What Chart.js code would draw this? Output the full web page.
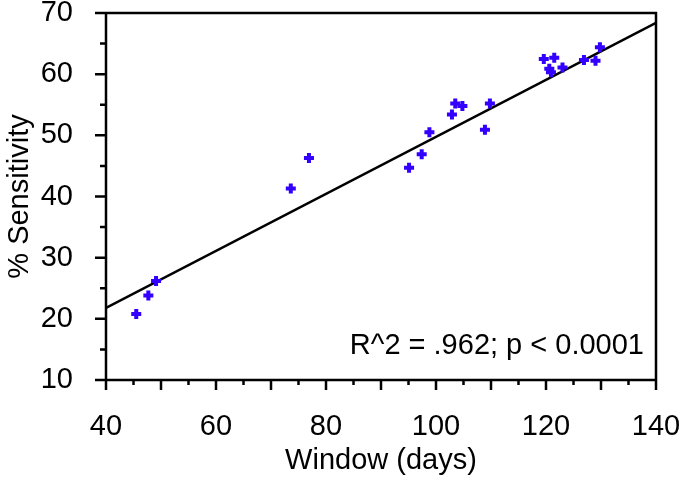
<!DOCTYPE html>
<html>
<head>
<meta charset="utf-8">
<script src="https://cdn.jsdelivr.net/npm/chart.js@4/dist/chart.umd.min.js"></script>
<style>
  body { margin: 0; background: #fff; }
</style>
</head>
<body>
<canvas id="chart" width="689" height="485"></canvas>
<script>
// Data
const windowDays = [45.5, 47.7, 49.1, 73.6, 76.9, 95.1, 97.4, 98.8, 102.9, 103.5, 104.8,
  108.9, 109.8, 119.6, 121.5, 120.6, 120.9, 123.0, 126.9, 129.0, 129.8];
const sensitivity = [20.8, 23.8, 26.2, 41.3, 46.3, 44.7, 46.9, 50.5, 53.4, 55.2, 54.8,
  50.9, 55.2, 62.5, 62.7, 60.9, 60.3, 61.1, 62.3, 62.2, 64.4];

// Regression line ends
const fitX = [40, 140];
const fitY = [21.8, 68.4];

const statText = "R^2 = .962; p < 0.0001";

const FONT = "'Liberation Sans', Arial, sans-serif";
const FSIZE = 29;
const points = windowDays.map((x, i) => ({ x: x, y: sensitivity[i] }));
const fitLine = fitX.map((x, i) => ({ x: x, y: fitY[i] }));

// axis lines, frame, major/minor ticks and the stats text
const axesPlugin = {
  id: "axes",
  afterDraw(chart) {
    const { ctx, chartArea: a, scales: { x, y } } = chart;
    ctx.save();
    ctx.strokeStyle = "#000";
    ctx.lineWidth = 2.5;
    ctx.beginPath();
    ctx.moveTo(a.left, a.top);
    ctx.lineTo(a.right, a.top);
    ctx.lineTo(a.right, a.bottom);
    ctx.moveTo(a.left, a.top);
    ctx.lineTo(a.left, a.bottom);
    ctx.lineTo(a.right, a.bottom);
    for (let v = 40; v <= 140; v += 5) {
      const px = x.getPixelForValue(v);
      ctx.moveTo(px, a.bottom);
      ctx.lineTo(px, a.bottom + (v % 10 === 0 ? 10 : 5));
    }
    for (let v = 10; v <= 70; v += 5) {
      const py = y.getPixelForValue(v);
      ctx.moveTo(a.left, py);
      ctx.lineTo(a.left - (v % 10 === 0 ? 11 : 6), py);
    }
    ctx.stroke();

    ctx.fillStyle = "#000";
    ctx.font = FSIZE + "px " + FONT;
    ctx.textAlign = "right";
    ctx.textBaseline = "alphabetic";
    ctx.fillText(statText, a.right - 12, y.getPixelForValue(14.2));
    ctx.restore();
  }
};

new Chart(document.getElementById("chart"), {
  type: "scatter",
  data: {
    datasets: [
      {
        label: "Sensitivity",
        data: points,
        pointStyle: "cross",
        pointRadius: 5,
        pointBorderWidth: 4,
        borderColor: "#3300ff",
        backgroundColor: "#3300ff"
      },
      {
        label: "Fit",
        type: "line",
        data: fitLine,
        borderColor: "#000",
        borderWidth: 2.5,
        pointRadius: 0,
        fill: false
      }
    ]
  },
  options: {
    responsive: false,
    animation: false,
    layout: { padding: { top: 13, right: 33, left: 0, bottom: 0 } },
    plugins: { legend: { display: false }, tooltip: { enabled: false } },
    scales: {
      x: {
        type: "linear",
        min: 40,
        max: 140,
        grid: { display: false },
        border: { display: false },
        ticks: {
          stepSize: 5,
          padding: 22,
          color: "#000",
          font: { family: FONT, size: FSIZE },
          maxRotation: 0,
          autoSkip: false,
          callback: v => (v % 20 === 0 ? v : "")
        },
        title: {
          display: true,
          text: "Window (days)",
          color: "#000",
          font: { family: FONT, size: FSIZE },
          padding: { top: 0, bottom: 7 }
        },
        afterFit: s => {
          s.height = 105;
          s.paddingLeft = 0;
          s.paddingRight = 0;
        }
      },
      y: {
        min: 10,
        max: 70,
        grid: { display: false },
        border: { display: false },
        ticks: {
          stepSize: 5,
          padding: 25,
          color: "#000",
          font: { family: FONT, size: FSIZE },
          autoSkip: false,
          callback: v => (v % 10 === 0 ? v : "")
        },
        title: {
          display: true,
          text: "% Sensitivity",
          color: "#000",
          font: { family: FONT, size: FSIZE },
          padding: { top: 3, bottom: 0 }
        },
        afterFit: s => {
          s.width = 106;
          s.paddingTop = 0;
          s.paddingBottom = 0;
        }
      }
    }
  },
  plugins: [axesPlugin]
});
</script>
</body>
</html>
